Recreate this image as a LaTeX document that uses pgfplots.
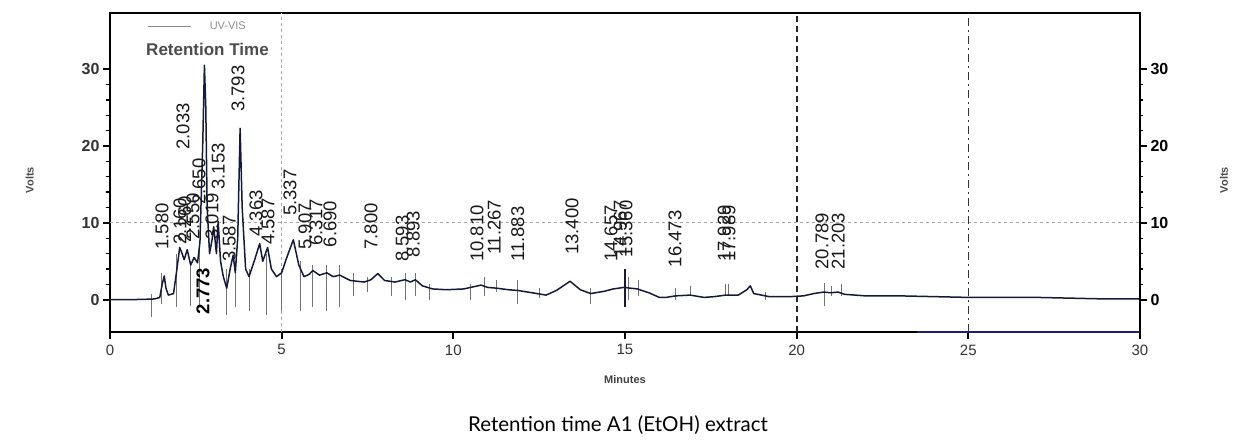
\documentclass[border=0pt]{standalone}
\usepackage{pgfplots}
\pgfplotsset{compat=1.18}
\usepackage{fontspec}
\setmainfont{Liberation Sans}
\newfontfamily\titlefont{Lato}
\definecolor{trace}{RGB}{22,26,58}
\definecolor{navyax}{RGB}{30,30,110}
\begin{document}
\begin{tikzpicture}
\path[use as bounding box] (0,0) rectangle (1236pt,444pt);
\begin{axis}[
  at={(110pt,112pt)}, anchor=south west,
  scale only axis, width=1030pt, height=319pt,
  xmin=0, xmax=30, ymin=-4.2, ymax=37.3,
  axis line style={line width=2.6pt, black},
  xtick={0,5,10,15,20,25,30},
  ytick={0,10,20,30},
  minor y tick num=4,
  xtick pos=bottom, ytick pos=left,
  tick align=outside,
  major tick length=7pt, minor tick length=3.5pt,
  every major tick/.style={line width=2pt, black},
  every minor tick/.style={line width=1.4pt, black},
  /pgf/number format/assume math mode=true,
  xticklabel style={font=\fontsize{15}{15}\selectfont, text=black!80, yshift=-2pt},
  yticklabel style={font=\fontsize{16}{16}\selectfont\bfseries, text=black!80},
  xlabel={Minutes},
  xlabel style={at={(axis description cs:0.5,-0.15)}, anchor=center, font=\fontsize{11}{11}\selectfont\bfseries, text=black!75},
  ylabel={Volts},
  ylabel style={at={(axis description cs:-0.078,0.476)}, anchor=center, rotate=0, font=\fontsize{11}{11}\selectfont\bfseries, text=black!70},
  clip=false,
  unbounded coords=jump,
]
% grid-like dashed lines
\addplot[black!35, dashed, line width=0.8pt, forget plot] coordinates {(0,10) (30,10)};
\addplot[black!35, dashed, line width=0.8pt, forget plot] coordinates {(5,-4.2) (5,37.3)};
\addplot[black!85, dashed, dash pattern=on 6pt off 4pt, line width=1.8pt, forget plot] coordinates {(20,-4.2) (20,37.3)};
\addplot[black!80, dash pattern=on 8pt off 4pt on 2pt off 4pt, line width=1.6pt, forget plot] coordinates {(25,-4.2) (25,37.3)};
% navy portion of bottom axis
\addplot[navyax, line width=2.6pt, forget plot] coordinates {(23.5,-4.2) (30,-4.2)};
% event markers
\addplot[black!55, line width=0.9pt, forget plot] coordinates {
(1.22,-2.3) (1.22,0.8) (1.22,nan)
(1.50,-0.5) (1.50,3.5) (1.50,nan)
(1.95,-1) (1.95,6) (1.95,nan)
(2.35,-0.8) (2.35,5) (2.35,nan)
(2.60,-1) (2.60,7) (2.60,nan)
(3.40,-2) (3.40,4) (3.40,nan)
(3.65,-1) (3.65,5) (3.65,nan)
(4.05,-1.5) (4.05,4) (4.05,nan)
(4.55,-2) (4.55,6) (4.55,nan)
(5.00,-1.5) (5.00,4) (5.00,nan)
(5.55,-1.5) (5.55,5) (5.55,nan)
(5.90,-1) (5.90,4.5) (5.90,nan)
(6.30,-1.5) (6.30,4.5) (6.30,nan)
(6.69,-1) (6.69,4.5) (6.69,nan)
(7.10,0.5) (7.10,3.5) (7.10,nan)
(7.50,1) (7.50,3) (7.50,nan)
(8.20,0.5) (8.20,3) (8.20,nan)
(8.60,0) (8.60,3.5) (8.60,nan)
(8.90,0.5) (8.90,3.5) (8.90,nan)
(9.30,0) (9.30,2) (9.30,nan)
(10.50,0) (10.50,2) (10.50,nan)
(10.90,0.5) (10.90,3) (10.90,nan)
(11.27,1) (11.27,2.5) (11.27,nan)
(11.88,-0.5) (11.88,2.5) (11.88,nan)
(12.50,0.2) (12.50,1.5) (12.50,nan)
(14.00,-0.5) (14.00,1.5) (14.00,nan)
(15.10,0) (15.10,3) (15.10,nan)
(15.40,0.5) (15.40,2.5) (15.40,nan)
(16.47,0) (16.47,1.5) (16.47,nan)
(16.90,0.5) (16.90,1.8) (16.90,nan)
(17.93,0.5) (17.93,2) (17.93,nan)
(18.00,0.5) (18.00,2) (18.00,nan)
(19.10,0) (19.10,1) (19.10,nan)
(20.80,-0.8) (20.80,2.2) (20.80,nan)
(21.00,0.5) (21.00,1.8) (21.00,nan)
(21.30,0.5) (21.30,2) (21.30,nan)
};
\addplot[trace, line width=2pt, forget plot] coordinates {(15.0,-1) (15.0,4)};
% chromatogram trace
\addplot[trace, line width=1.5pt, line join=round] coordinates {
(0,0) (0.5,0) (1.0,0.05) (1.3,0.1) (1.45,0.3) (1.52,2.0) (1.58,3.1) (1.63,1.5) (1.7,0.6)
(1.85,0.8) (1.95,4) (2.03,6.8) (2.1,6.0) (2.16,5.2) (2.25,6.5) (2.35,4.5) (2.45,5.5)
(2.55,4.8) (2.62,7.5) (2.70,20) (2.75,30.5) (2.79,25) (2.83,12) (2.9,6) (2.98,8) (3.02,9.5)
(3.1,6) (3.15,10.2) (3.22,5) (3.3,3) (3.4,1.5) (3.5,4) (3.587,5.8) (3.65,3.5) (3.72,8)
(3.79,22.3) (3.85,12) (3.95,4) (4.05,3) (4.2,5) (4.36,7.3) (4.45,5) (4.59,6.8) (4.7,4)
(4.85,3) (5.0,3.5) (5.15,5.5) (5.34,7.8) (5.5,4.5) (5.65,3) (5.8,3.3) (5.907,3.8) (6.1,3.2)
(6.317,3.5) (6.5,3.0) (6.69,3.2) (7.0,2.5) (7.4,2.3) (7.6,2.6) (7.8,3.4) (8.0,2.5) (8.3,2.3)
(8.593,2.6) (8.75,2.3) (8.893,2.6) (9.1,1.8) (9.4,1.4) (9.8,1.3) (10.3,1.4) (10.81,1.9)
(11.0,1.6) (11.267,1.5) (11.6,1.3) (11.883,1.2) (12.3,0.9) (12.7,0.6) (13.0,1.2) (13.4,2.4)
(13.7,1.3) (14.0,0.8) (14.4,1.1) (14.657,1.4) (14.967,1.6) (15.36,1.4) (15.7,0.9) (16.0,0.3)
(16.2,0.3) (16.473,0.5) (16.9,0.6) (17.3,0.3) (17.6,0.4) (17.929,0.6) (17.989,0.6) (18.3,0.6)
(18.55,1.3) (18.65,1.8) (18.75,0.8) (19.2,0.4) (19.8,0.4) (20.2,0.5) (20.5,0.8) (20.789,1.0)
(21.0,0.9) (21.203,1.0) (21.4,0.7) (22,0.5) (23,0.5) (24,0.4) (25,0.3) (26,0.3) (27,0.3)
(28,0.2) (29,0.1) (30,0.1)
};
% legend-like header
\addplot[black!45, line width=0.9pt, forget plot] coordinates {(1.1,35.5) (2.35,35.5)};
\node[anchor=west, inner sep=0, text=black!45, font=\fontsize{11}{11}\selectfont] at (axis cs:2.9,35.6) {UV-VIS};
\node[anchor=west, inner sep=0, text=black!70, font=\fontsize{17}{17}\selectfont\bfseries] at (axis cs:1.05,32.6) {Retention Time};
% peak labels
\tikzset{pk/.style={rotate=90, anchor=west, inner sep=0, text=black!90, font=\fontsize{18.5}{18.5}\selectfont}}
\node[pk] at (axis cs:1.515,6.5) {1.580};
\node[pk] at (axis cs:2.04,7.1) {2.160};
\node[pk] at (axis cs:2.18,7.4) {2.260};
\node[pk] at (axis cs:2.13,19.5) {2.033};
\node[pk] at (axis cs:2.42,7.8) {2.550};
\node[pk] at (axis cs:2.59,12.3) {2.650};
\node[pk] at (axis cs:2.97,7.8) {3.019};
\node[pk] at (axis cs:3.15,14.3) {3.153};
\node[pk] at (axis cs:3.47,4.9) {3.587};
\node[pk, font=\fontsize{18.5}{18.5}\selectfont\bfseries, text=black] at (axis cs:2.71,-1.9) {2.773};
\node[pk] at (axis cs:3.73,24.4) {3.793};
\node[pk] at (axis cs:4.25,8.2) {4.363};
\node[pk] at (axis cs:4.60,7.1) {4.587};
\node[pk] at (axis cs:5.24,10.9) {5.337};
\node[pk] at (axis cs:5.68,6.5) {5.907};
\node[pk] at (axis cs:6.00,7.0) {6.317};
\node[pk] at (axis cs:6.41,6.8) {6.690};
\node[pk] at (axis cs:7.60,6.5) {7.800};
\node[pk] at (axis cs:8.51,4.9) {8.593};
\node[pk] at (axis cs:8.83,5.5) {8.893};
\node[pk] at (axis cs:10.69,4.9) {10.810};
\node[pk] at (axis cs:11.19,5.8) {11.267};
\node[pk] at (axis cs:11.88,4.9) {11.883};
\node[pk] at (axis cs:13.46,5.8) {13.400};
\node[pk] at (axis cs:14.59,4.9) {14.657};
\node[pk] at (axis cs:14.86,5.5) {14.967};
\node[pk] at (axis cs:15.03,5.5) {15.360};
\node[pk] at (axis cs:16.46,4.2) {16.473};
\node[pk] at (axis cs:17.89,4.9) {17.929};
\node[pk] at (axis cs:18.03,4.9) {17.989};
\node[pk] at (axis cs:20.74,3.9) {20.789};
\node[pk] at (axis cs:21.21,3.9) {21.203};
% caption
\node[anchor=center, font=\titlefont\fontsize{20.5}{20.5}\selectfont, text=black] at (axis description cs:0.4932,-0.292) {Retention time A1 (EtOH) extract};
\end{axis}
\begin{axis}[
  at={(110pt,112pt)}, anchor=south west,
  scale only axis, width=1030pt, height=319pt,
  xmin=0, xmax=30, ymin=-4.2, ymax=37.3,
  axis x line=none, axis y line*=right,
  axis line style={line width=2.6pt, black},
  ytick={0,10,20,30}, minor y tick num=4,
  tick align=outside,
  major tick length=7pt, minor tick length=3.5pt,
  every major tick/.style={line width=2pt, black},
  every minor tick/.style={line width=1.4pt, black},
  /pgf/number format/assume math mode=true,
  yticklabel style={font=\fontsize{16}{16}\selectfont\bfseries, text=black},
  ylabel={Volts},
  ylabel style={at={(axis description cs:1.0815,0.476)}, anchor=center, rotate=0, font=\fontsize{11}{11}\selectfont\bfseries, text=black!70},
]
\end{axis}
\end{tikzpicture}
\end{document}
